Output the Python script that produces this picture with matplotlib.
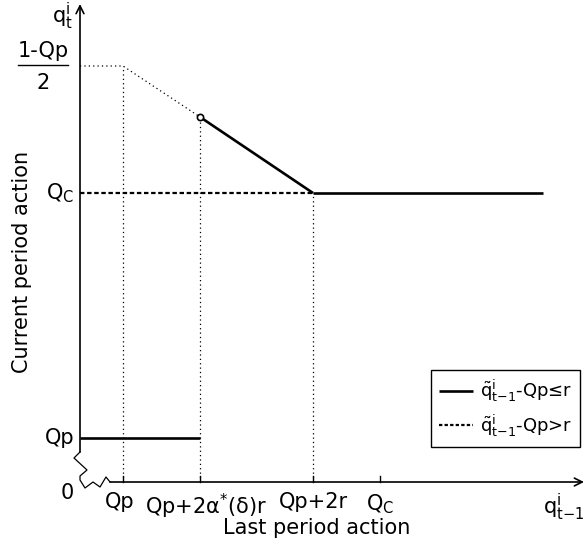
import matplotlib
matplotlib.use("Agg")
import matplotlib.pyplot as plt
from matplotlib.lines import Line2D

plt.rcParams['font.family'] = ['DejaVu Sans']
plt.rcParams['mathtext.default'] = 'regular'

# ---- data (schematic units) ----
x_ticks = [0.43, 1.20, 2.33, 3.00]
x_tick_labels = ['Qp', 'Qp+2α$^{*}$(δ)r', 'Qp+2r', 'Q$_{C}$']
x_end = 4.63

y_Qp = 0.44
y_Qc = 2.89
y_top = 4.16
y_circle = 3.65

# segments
low_x = [0.0, 1.20]            # Qp level for small deviations
low_y = [y_Qp, y_Qp]
slope_x = [1.20, 2.33]         # decreasing part
slope_y = [y_circle, y_Qc]
flat_x = [2.33, x_end]
flat_y = [y_Qc, y_Qc]
dash_x = [0.0, 2.33]
dash_y = [y_Qc, y_Qc]
dot_x = [0.0, 0.43, 1.20]
dot_y = [y_top, y_top, y_circle]

# zigzag for the broken axis
zig_x = [0.0, -0.06, 0.07, 0.0, 0.0, 0.05, 0.13, 0.20, 0.26, 0.30]
zig_y = [0.30, 0.24, 0.12, 0.06, 0.02, -0.06, 0.00, -0.05, 0.05, 0.0]

fig = plt.figure(figsize=(5.85, 5.49), dpi=100)
ax = fig.add_axes([0, 0, 1, 1])
ax.set_xlim(-0.80, 5.05)
ax.set_ylim(-0.67, 4.82)
ax.axis('off')

k = 'black'
# axes
ax.annotate('', xy=(0, 4.78), xytext=(0, 0.30),
            arrowprops=dict(arrowstyle='->', lw=1.2, color=k, shrinkA=0, shrinkB=0, mutation_scale=14))
ax.annotate('', xy=(5.04, 0), xytext=(0.30, 0),
            arrowprops=dict(arrowstyle='->', lw=1.2, color=k, shrinkA=0, shrinkB=0, mutation_scale=14))
ax.plot(zig_x, zig_y, color=k, lw=0.9)

# ticks
for xt in x_ticks:
    ax.plot([xt, xt], [0, 0.06], color=k, lw=1.0)

# dotted guides
dotted = (0, (1, 2.5))
ax.plot(dot_x, dot_y, color=k, lw=0.9, linestyle=dotted)
ax.plot([x_ticks[0], x_ticks[0]], [0, y_top], color=k, lw=0.9, linestyle=dotted)
ax.plot([x_ticks[1], x_ticks[1]], [0, y_circle], color=k, lw=0.9, linestyle=dotted)
ax.plot([x_ticks[2], x_ticks[2]], [0, y_Qc], color=k, lw=0.9, linestyle=dotted)

# main lines
solid, = ax.plot(slope_x, slope_y, color=k, lw=1.9, solid_capstyle='butt')
ax.plot(flat_x, flat_y, color=k, lw=1.9, solid_capstyle='butt')
ax.plot(low_x, low_y, color=k, lw=1.9, solid_capstyle='butt')
dashed, = ax.plot(dash_x, dash_y, color=k, lw=1.6, linestyle=(0, (2, 1.2)))
ax.plot([slope_x[0]], [slope_y[0]], marker='o', ms=4.5, mfc='white', mec=k, mew=1.2)

fs = 15
# x tick labels
tick_dx = [-0.03, 0.06, 0.0, 0.0]
for xt, lab, dx in zip(x_ticks, x_tick_labels, tick_dx):
    ax.text(xt + dx, -0.10, lab, ha='center', va='top', fontsize=fs)
ax.text(5.04, -0.10, '$q^{i}_{t{-}1}$', ha='right', va='top', fontsize=fs)
ax.text(-0.13, -0.11, '0', ha='center', va='center', fontsize=fs)

# y labels
ax.text(-0.06, y_Qp, 'Qp', ha='right', va='center', fontsize=fs)
ax.text(-0.06, y_Qc, 'Q$_{C}$', ha='right', va='center', fontsize=fs)
ax.text(-0.37, 4.31, '1-Qp', ha='center', va='center', fontsize=fs)
ax.plot([-0.62, -0.12], [4.17, 4.17], color=k, lw=1.0)
ax.text(-0.37, 3.99, '2', ha='center', va='center', fontsize=fs)
ax.text(-0.18, 4.66, '$q^{i}_{t}$', ha='center', va='center', fontsize=fs)

ax.text(2.37, -0.46, 'Last period action', ha='center', va='center', fontsize=fs)
ax.text(-0.58, 2.20, 'Current period action', ha='center', va='center', fontsize=fs, rotation=90)

# legend
leg = ax.legend([solid, Line2D([], [], color=k, lw=1.6, linestyle=(0, (1.5, 1)))],
                [r'$\tilde{q}^{i}_{t{-}1}$-Qp≤r', r'$\tilde{q}^{i}_{t{-}1}$-Qp>r'],
                loc='upper left', bbox_to_anchor=(431/585, 1 - 370/549),
                bbox_transform=fig.transFigure, fancybox=False, framealpha=1,
                edgecolor=k, fontsize=13, handlelength=1.9, handletextpad=0.35,
                borderpad=0.45, labelspacing=0.45, borderaxespad=0)
leg.get_frame().set_linewidth(1.0)

fig.savefig('out.png', dpi=100)
